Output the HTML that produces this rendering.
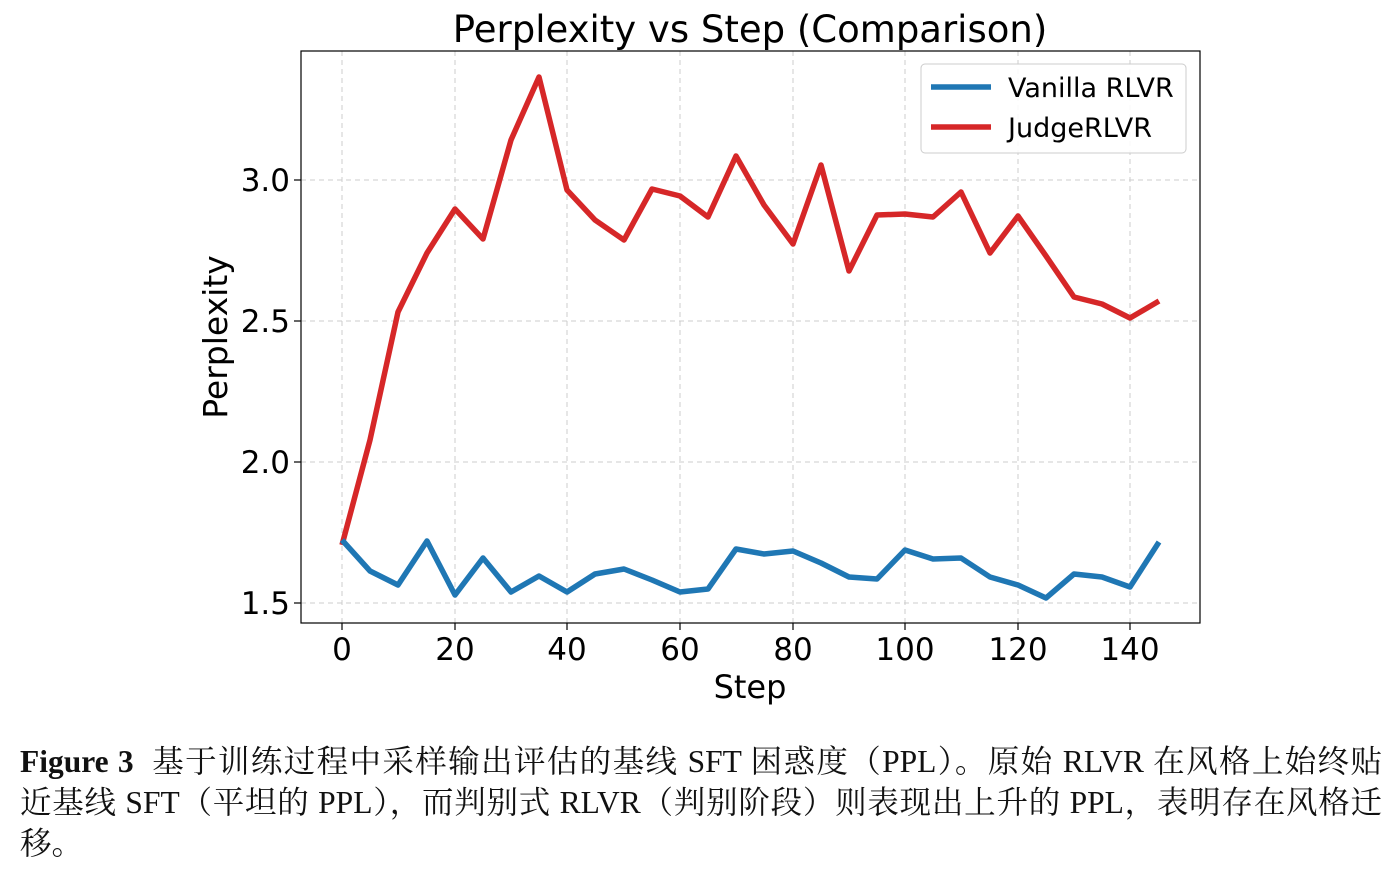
<!DOCTYPE html>
<html><head><meta charset="utf-8"><style>
body{margin:0;background:#fff;width:1396px;height:878px;overflow:hidden;position:relative}
.cap{position:absolute;left:20px;top:741px;width:1362px;font-family:"Liberation Serif","Noto Serif CJK SC",serif;font-size:31.5px;line-height:41px;color:#111;white-space:nowrap}
.cap div{text-align:justify;text-align-last:justify}
.cap div.l{text-align-last:left}
</style></head><body>
<svg width="1396" height="720" style="position:absolute;left:0;top:0" font-family="DejaVu Sans, sans-serif">
<g stroke="#cccccc" stroke-dasharray="5,4" stroke-width="1">
<line x1="342" y1="51" x2="342" y2="623"/><line x1="455" y1="51" x2="455" y2="623"/><line x1="567" y1="51" x2="567" y2="623"/><line x1="680" y1="51" x2="680" y2="623"/><line x1="793" y1="51" x2="793" y2="623"/><line x1="905" y1="51" x2="905" y2="623"/><line x1="1018" y1="51" x2="1018" y2="623"/><line x1="1130" y1="51" x2="1130" y2="623"/>
<line x1="301" y1="180" x2="1200" y2="180"/><line x1="301" y1="321" x2="1200" y2="321"/><line x1="301" y1="462" x2="1200" y2="462"/><line x1="301" y1="603" x2="1200" y2="603"/>
</g>
<rect x="301" y="51" width="899" height="572" fill="none" stroke="#000" stroke-width="1.2"/>
<g stroke="#000" stroke-width="1.2">
<line x1="342" y1="623" x2="342" y2="630"/><line x1="455" y1="623" x2="455" y2="630"/><line x1="567" y1="623" x2="567" y2="630"/><line x1="680" y1="623" x2="680" y2="630"/><line x1="793" y1="623" x2="793" y2="630"/><line x1="905" y1="623" x2="905" y2="630"/><line x1="1018" y1="623" x2="1018" y2="630"/><line x1="1130" y1="623" x2="1130" y2="630"/>
<line x1="294" y1="180" x2="301" y2="180"/><line x1="294" y1="321" x2="301" y2="321"/><line x1="294" y1="462" x2="301" y2="462"/><line x1="294" y1="603" x2="301" y2="603"/>
</g>
<g font-size="31" fill="#000" text-anchor="middle">
<text x="342" y="660">0</text><text x="455" y="660">20</text><text x="567" y="660">40</text><text x="680" y="660">60</text><text x="793" y="660">80</text><text x="905" y="660">100</text><text x="1018" y="660">120</text><text x="1130" y="660">140</text>
<text x="750" y="698" font-size="32">Step</text>
<text x="750" y="42" font-size="37">Perplexity vs Step (Comparison)</text>
</g>
<g font-size="31" fill="#000" text-anchor="end">
<text x="290" y="191">3.0</text><text x="290" y="332">2.5</text><text x="290" y="473">2.0</text><text x="290" y="614">1.5</text>
</g>
<text transform="translate(227,337) rotate(-90)" font-size="33" text-anchor="middle">Perplexity</text>
<polyline fill="none" stroke="#d62728" stroke-width="5.5" stroke-linejoin="round" points="342,545 370,440 398,312 427,253 455,209 483,239 511,140 539,77 567,190 595,220 624,240 652,189 680,196 708,217 736,156 764,205 793,244 821,165 849,271 877,215 905,214 933,217 961,192 990,253 1018,216 1046,256 1074,297 1102,304 1130,318 1159,301"/>
<polyline fill="none" stroke="#1f77b4" stroke-width="5.5" stroke-linejoin="round" points="342,540 370,571 398,585 427,541 455,595 483,558 511,592 539,576 567,592 595,574 624,569 652,580 680,592 708,589 736,549 764,554 793,551 821,563 849,577 877,579 905,550 933,559 961,558 990,577 1018,585 1046,598 1074,574 1102,577 1130,587 1159,542"/>
<rect x="921" y="64" width="265" height="89" rx="4" fill="#fff" fill-opacity="0.85" stroke="#cccccc"/>
<line x1="931" y1="87" x2="991" y2="87" stroke="#1f77b4" stroke-width="5.5"/>
<line x1="931" y1="127" x2="991" y2="127" stroke="#d62728" stroke-width="5.5"/>
<text x="1008" y="97" font-size="27">Vanilla RLVR</text>
<text x="1008" y="137" font-size="27">JudgeRLVR</text>
</svg>
<div class="cap">
<div><b>Figure 3</b>&nbsp; 基于训练过程中采样输出评估的基线 SFT 困惑度（PPL）。原始 RLVR 在风格上始终贴</div>
<div>近基线 SFT（平坦的 PPL），而判别式 RLVR（判别阶段）则表现出上升的 PPL，表明存在风格迁</div>
<div class="l">移。</div>
</div>
</body></html>
